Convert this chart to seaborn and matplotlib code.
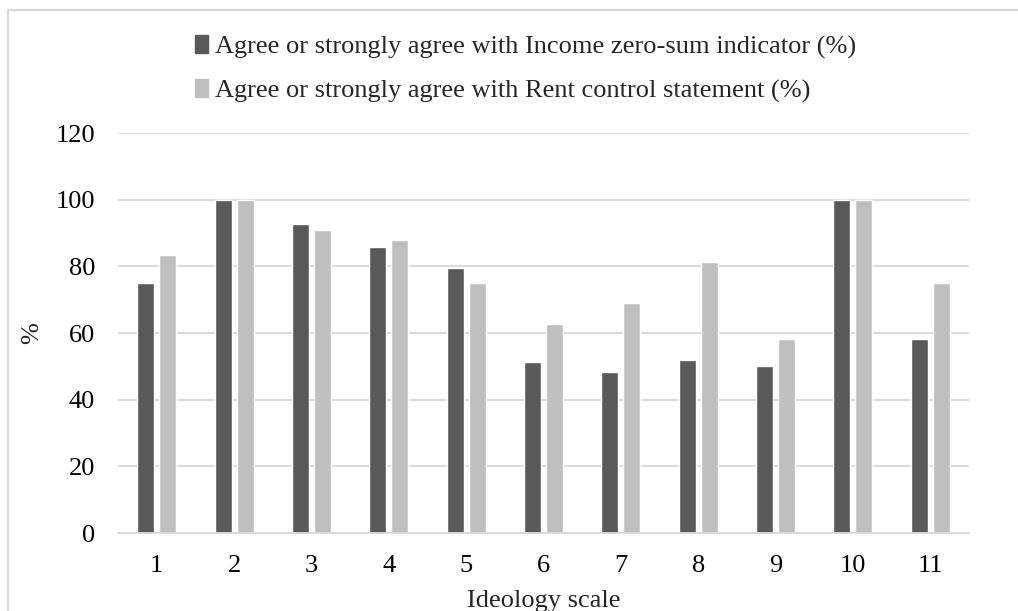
import pandas as pd
import matplotlib.pyplot as plt
import seaborn as sns
from matplotlib.lines import Line2D

# data
ideology = [str(i) for i in range(1, 12)]
income_zero_sum = [75.0, 100.0, 92.8, 85.7, 79.5, 51.3, 48.2, 51.8, 50.0, 100.0, 58.2]
rent_control = [83.3, 100.0, 90.9, 88.0, 75.0, 62.7, 68.9, 81.4, 58.2, 100.0, 75.0]
series_names = ["Agree or strongly agree with Income zero-sum indicator (%)",
                "Agree or strongly agree with Rent control statement (%)"]

df = pd.DataFrame({
    "Ideology": ideology * 2,
    "Value": income_zero_sum + rent_control,
    "Series": [series_names[0]] * 11 + [series_names[1]] * 11,
})

sns.set_style("white")
plt.rcParams['font.family'] = ['Liberation Serif', 'DejaVu Serif']

fig = plt.figure(figsize=(10.18, 6.11), dpi=100)
ax = fig.add_axes([118 / 1018, 1 - 533 / 611, 851 / 1018, 400 / 611])

sns.barplot(data=df, x="Ideology", y="Value", hue="Series",
            palette=["#595959", "#BFBFBF"], width=0.57, gap=0.23,
            saturation=1, ax=ax, legend=False)

ax.set_ylim(0, 120)
ax.set_xlim(-0.5, 10.5)
ax.set_yticks(range(0, 121, 20))
ax.yaxis.grid(True, color="#D9D9D9", linewidth=1.3)
ax.set_axisbelow(True)
for s in ["top", "right", "left"]:
    ax.spines[s].set_visible(False)
ax.spines["bottom"].set_color("#D9D9D9")
ax.spines["bottom"].set_linewidth(1.3)
ax.tick_params(axis="both", length=0, labelsize=19, colors="black")
ax.tick_params(axis="x", pad=16)
ax.tick_params(axis="y", pad=16.5)
ax.set_xlabel("Ideology scale", fontsize=19, labelpad=9)
ax.set_ylabel("%", fontsize=19, labelpad=9)

handles = [plt.Rectangle((0, 0), 1, 1, color=c) for c in ["#595959", "#BFBFBF"]]
fig.legend(handles, series_names, loc="upper left", bbox_to_anchor=(195 / 1018, 1 - 35 / 611),
           frameon=False, fontsize=19, handlelength=0.5, handleheight=0.7,
           handletextpad=0.27, labelspacing=0.76, borderpad=0, borderaxespad=0)

# chart area border (top and left only visible)
fig.add_artist(Line2D([8 / 1018, 1.0], [1 - 10 / 611, 1 - 10 / 611], color="#D9D9D9", linewidth=1.6))
fig.add_artist(Line2D([8 / 1018, 8 / 1018], [0, 1 - 10 / 611], color="#D9D9D9", linewidth=1.6))

fig.savefig("out.png", dpi=100)
